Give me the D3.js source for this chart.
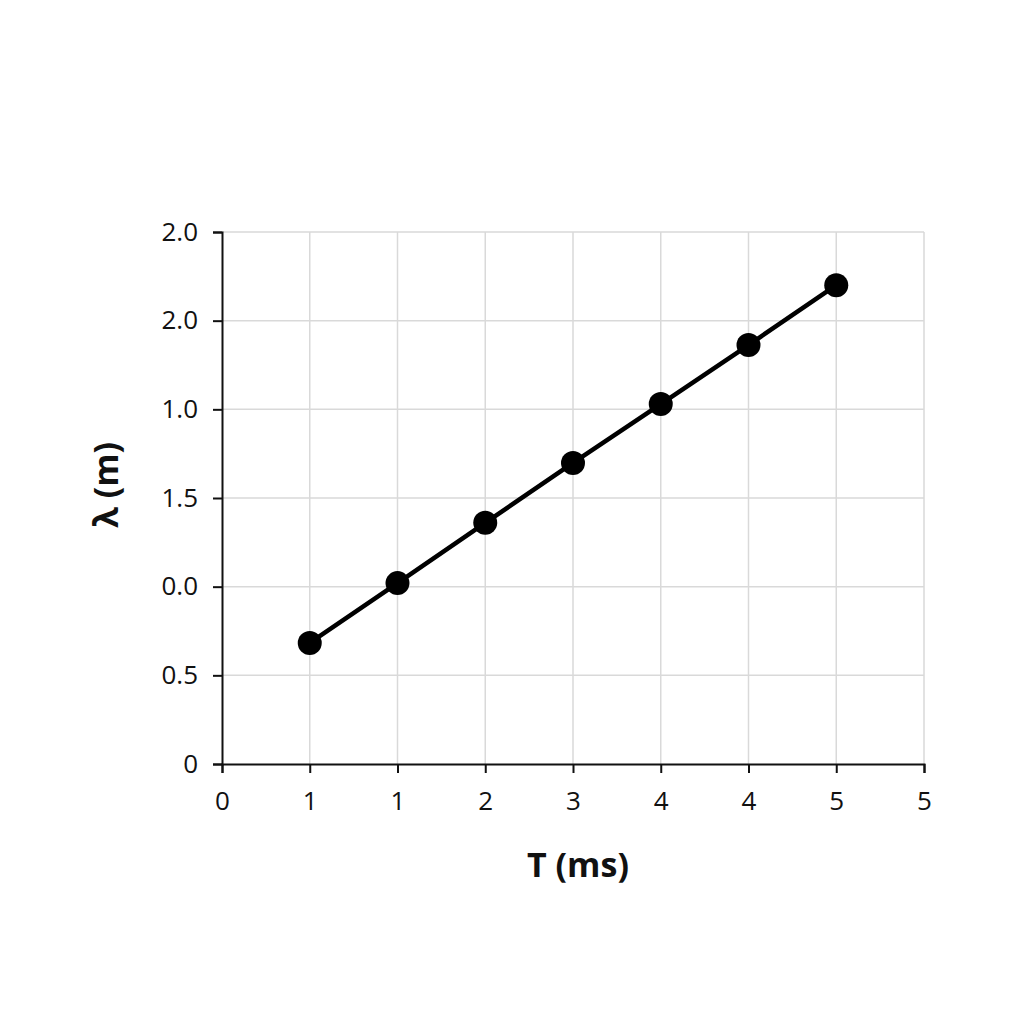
<!DOCTYPE html>
<html>
<head>
<meta charset="utf-8">
<script src="https://cdn.jsdelivr.net/npm/d3@7"></script>
<style>
  html, body { margin: 0; padding: 0; background: #fff; }
</style>
</head>
<body>
<div id="chart"></div>
<script>
// tick labels as printed in the picture (slots along each axis)
const xTickLabels = ["0", "1", "1", "2", "3", "4", "4", "5", "5"];
const yTickLabels = ["0", "0.5", "0.0", "1.5", "1.0", "2.0", "2.0"];

// point positions, in tick-slot units
const xValues = [1, 2, 3, 4, 5, 6, 7];
const yValues = [1.365, 2.04, 2.72, 3.395, 4.06, 4.725, 5.40];

const width = 1024;
const height = 1024;
const margin = {top: 232, right: 100, bottom: 260, left: 222};

const svg = d3.select('#chart')
    .append('svg')
    .attr("width", width)
    .attr("height", height)
    .style("font-family", "'Open Sans', sans-serif");

const x = d3.scaleLinear()
    .domain([0, xTickLabels.length - 1])
    .range([margin.left, width - margin.right]);

const y = d3.scaleLinear()
    .domain([0, yTickLabels.length - 1])
    .range([height - margin.bottom, margin.top]);

// grid
svg.append("g")
    .attr("stroke", "#d9d9d9")
    .attr("stroke-width", 1.5)
    .call(g => g.selectAll()
      .data(d3.range(1, xTickLabels.length))
      .join("line")
        .attr("x1", d => x(d)).attr("x2", d => x(d))
        .attr("y1", y(0)).attr("y2", y(yTickLabels.length - 1)))
    .call(g => g.selectAll()
      .data(d3.range(1, yTickLabels.length))
      .join("line")
        .attr("y1", d => y(d)).attr("y2", d => y(d))
        .attr("x1", x(0)).attr("x2", x(xTickLabels.length - 1)));

const xAxis = d3.axisBottom(x)
    .tickValues(d3.range(xTickLabels.length))
    .tickFormat(i => xTickLabels[i])
    .tickSizeOuter(0)
    .tickSize(9)
    .tickPadding(19);

const yAxis = d3.axisLeft(y)
    .tickValues(d3.range(yTickLabels.length))
    .tickFormat(i => yTickLabels[i])
    .tickSizeOuter(0)
    .tickSize(9)
    .tickPadding(15);

svg.append("g")
    .attr("transform", `translate(0,${y(0)})`)
    .call(xAxis)
    .call(g => g.select(".domain").attr("stroke", "#111").attr("stroke-width", 2))
    .call(g => g.selectAll(".tick line").attr("stroke", "#111").attr("stroke-width", 2))
    .call(g => g.selectAll("text").attr("font-size", 26).attr("fill", "#111")
        .attr("font-family", "'Open Sans', sans-serif"));

svg.append("g")
    .attr("transform", `translate(${x(0)},0)`)
    .call(yAxis)
    .call(g => g.select(".domain").attr("stroke", "#111").attr("stroke-width", 2))
    .call(g => g.selectAll(".tick line").attr("stroke", "#111").attr("stroke-width", 2))
    .call(g => g.selectAll("text").attr("font-size", 26).attr("fill", "#111")
        .attr("font-family", "'Open Sans', sans-serif"));

// series
const points = xValues.map((v, i) => [v, yValues[i]]);

svg.append("path")
    .datum(points)
    .attr("fill", "none")
    .attr("stroke", "#000")
    .attr("stroke-width", 4.5)
    .attr("d", d3.line().x(d => x(d[0])).y(d => y(d[1])));

svg.append("g")
  .selectAll()
  .data(points)
  .join("circle")
    .attr("cx", d => x(d[0]))
    .attr("cy", d => y(d[1]))
    .attr("r", 12)
    .attr("fill", "#000");

// axis titles
svg.append("text")
    .attr("x", 578)
    .attr("y", 877)
    .attr("text-anchor", "middle")
    .attr("font-size", 34)
    .attr("font-weight", "bold")
    .attr("fill", "#111")
    .text("T (ms)");

svg.append("text")
    .attr("transform", "translate(118,485) rotate(-90)")
    .attr("text-anchor", "middle")
    .attr("font-size", 34)
    .attr("font-weight", "bold")
    .attr("fill", "#111")
    .text("λ (m)");
</script>
</body>
</html>
